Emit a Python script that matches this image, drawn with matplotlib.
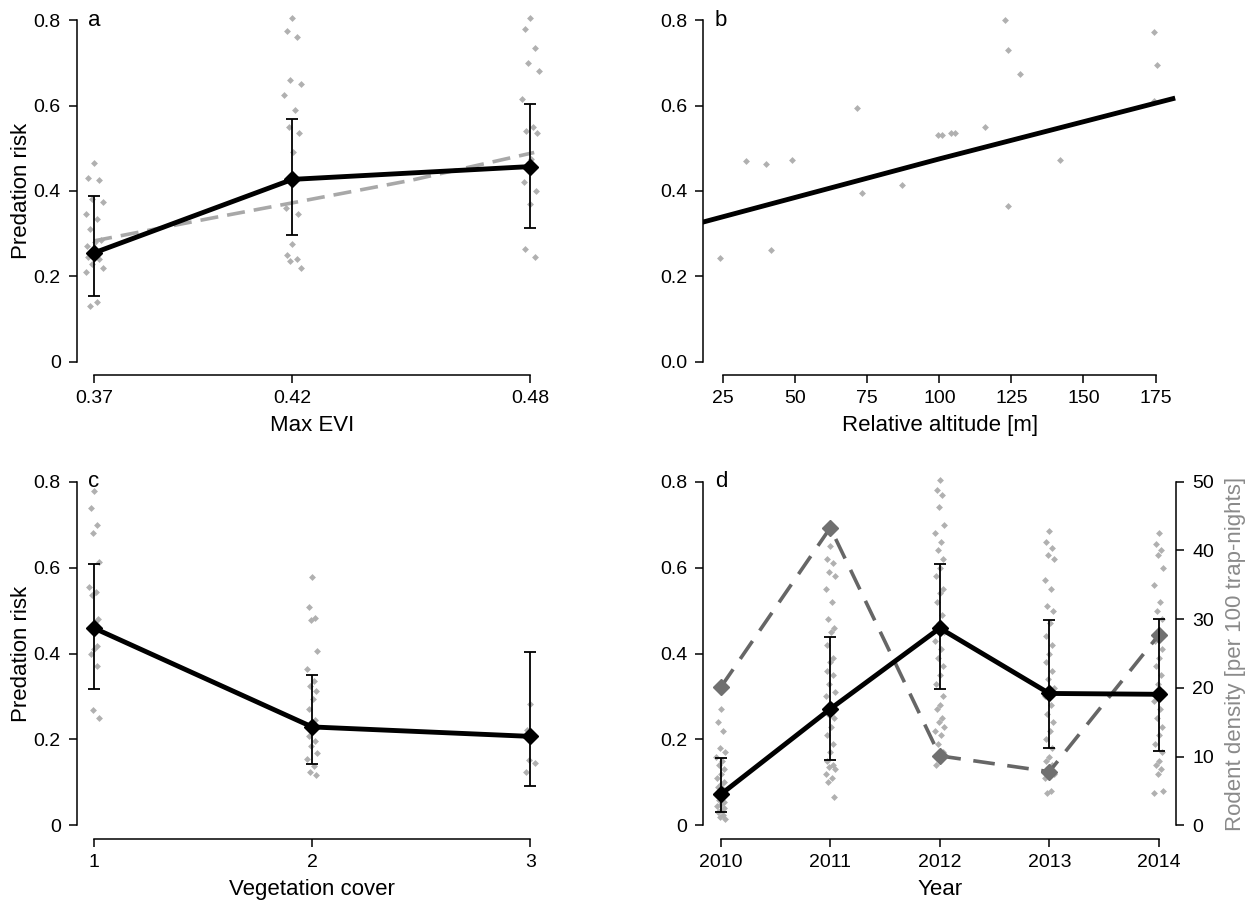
import matplotlib.pyplot as plt
import numpy as np

plt.rcParams['font.family'] = ['Liberation Sans', 'DejaVu Sans']

# ---- panel a: Max EVI
evi = [0.37, 0.42, 0.48]
evi_mean = [0.255, 0.427, 0.457]
evi_lo = [0.155, 0.297, 0.314]
evi_hi = [0.388, 0.568, 0.604]
evi_fit_x = [0.37, 0.40, 0.42, 0.45, 0.481]
evi_fit_y = [0.283, 0.337, 0.372, 0.425, 0.490]
evi_pts = {
    0.37: [0.465, 0.43, 0.425, 0.38, 0.375, 0.345, 0.335, 0.31, 0.285, 0.28,
           0.27, 0.26, 0.25, 0.245, 0.24, 0.23, 0.22, 0.21, 0.14, 0.13],
    0.42: [0.805, 0.775, 0.76, 0.66, 0.65, 0.625, 0.59, 0.55, 0.535, 0.49,
           0.36, 0.345, 0.275, 0.25, 0.24, 0.235, 0.22],
    0.48: [0.805, 0.78, 0.735, 0.70, 0.68, 0.615, 0.55, 0.54, 0.535, 0.475,
           0.42, 0.40, 0.37, 0.265, 0.245],
}

# ---- panel b: relative altitude
alt_x = [23.9, 32.9, 40.0, 41.6, 48.7, 71.4, 73.0, 87.1, 99.4, 100.9, 103.9,
         105.3, 115.8, 122.8, 123.9, 123.9, 127.9, 141.7, 174.3, 175.4, 174.3]
alt_y = [0.244, 0.471, 0.463, 0.262, 0.472, 0.595, 0.395, 0.413, 0.53, 0.53,
         0.535, 0.536, 0.549, 0.80, 0.731, 0.365, 0.674, 0.472, 0.773, 0.695, 0.611]
alt_fit_x = [18, 100, 181]
alt_fit_y = [0.327, 0.475, 0.616]

# ---- panel c: vegetation cover
veg = [1, 2, 3]
veg_mean = [0.459, 0.229, 0.207]
veg_lo = [0.318, 0.143, 0.092]
veg_hi = [0.608, 0.350, 0.403]
veg_pts = {
    1: [0.778, 0.739, 0.70, 0.68, 0.614, 0.555, 0.543, 0.537, 0.481, 0.473,
        0.46, 0.418, 0.41, 0.399, 0.37, 0.268, 0.25],
    2: [0.579, 0.509, 0.483, 0.478, 0.405, 0.364, 0.336, 0.324, 0.313, 0.293,
        0.27, 0.246, 0.227, 0.207, 0.196, 0.184, 0.168, 0.155, 0.137, 0.125, 0.117],
    3: [0.283, 0.222, 0.207, 0.152, 0.146, 0.123],
}

# ---- panel d: year
years = [2010, 2011, 2012, 2013, 2014]
yr_mean = [0.072, 0.271, 0.459, 0.307, 0.305]
yr_lo = [0.030, 0.151, 0.317, 0.180, 0.172]
yr_hi = [0.156, 0.438, 0.608, 0.479, 0.480]
rodent = [20.1, 43.3, 10.1, 7.8, 27.7]
yr_pts = {
    2010: [0.27, 0.24, 0.22, 0.18, 0.17, 0.16, 0.15, 0.14, 0.13, 0.12, 0.11, 0.10,
           0.095, 0.09, 0.085, 0.08, 0.075, 0.07, 0.065, 0.06, 0.055, 0.05, 0.045,
           0.04, 0.035, 0.03, 0.025, 0.02, 0.015],
    2011: [0.65, 0.62, 0.61, 0.59, 0.58, 0.55, 0.52, 0.48, 0.46, 0.45, 0.42, 0.39,
           0.38, 0.36, 0.35, 0.33, 0.31, 0.30, 0.28, 0.26, 0.25, 0.23, 0.21, 0.19,
           0.17, 0.15, 0.14, 0.135, 0.13, 0.12, 0.11, 0.10, 0.065],
    2012: [0.805, 0.78, 0.77, 0.74, 0.70, 0.68, 0.66, 0.64, 0.62, 0.60, 0.58, 0.55,
           0.54, 0.52, 0.49, 0.47, 0.45, 0.43, 0.41, 0.39, 0.37, 0.35, 0.33, 0.30,
           0.28, 0.27, 0.25, 0.24, 0.23, 0.22, 0.21, 0.19, 0.17, 0.15, 0.14],
    2013: [0.685, 0.66, 0.645, 0.63, 0.62, 0.57, 0.55, 0.51, 0.50, 0.47, 0.44, 0.42,
           0.40, 0.38, 0.36, 0.34, 0.32, 0.30, 0.28, 0.26, 0.24, 0.22, 0.20, 0.18,
           0.16, 0.15, 0.14, 0.13, 0.12, 0.11, 0.08, 0.075],
    2014: [0.68, 0.655, 0.64, 0.63, 0.60, 0.56, 0.52, 0.50, 0.48, 0.45, 0.43, 0.41,
           0.39, 0.37, 0.35, 0.33, 0.31, 0.29, 0.27, 0.25, 0.23, 0.21, 0.19, 0.17,
           0.15, 0.14, 0.13, 0.12, 0.08, 0.075],
}

DOT = '#b0b0b0'
jit = np.array([0.0, -0.6, 0.5, -0.2, 0.9, -0.9, 0.3, -0.4, 0.7, 0.1, -0.7, 0.6])
TICK = 14
LAB = 16


def r_style(ax, xticks, xlabels, yticklabels, xlim):
    ax.set_xlim(*xlim)
    ax.set_ylim(-0.032, 0.832)
    for s in ['top', 'right']:
        ax.spines[s].set_visible(False)
    ax.spines['left'].set_bounds(0, 0.8)
    ax.spines['bottom'].set_bounds(xticks[0], xticks[-1])
    for s in ['left', 'bottom']:
        ax.spines[s].set_linewidth(1.1)
    ax.set_xticks(xticks)
    ax.set_xticklabels(xlabels)
    ax.set_yticks([0, 0.2, 0.4, 0.6, 0.8])
    ax.set_yticklabels(yticklabels)
    ax.tick_params(direction='out', length=5.5, width=1.1, labelsize=TICK)
    ax.tick_params(axis='y', pad=6)
    ax.tick_params(axis='x', pad=5)


def dots(ax, groups, scale):
    for x0, vals in groups.items():
        xs = x0 + jit[np.arange(len(vals)) % len(jit)] * scale
        ax.plot(xs, vals, 'D', ms=3.5, color=DOT, mec='none', zorder=1)


def means(ax, x, m, lo, hi):
    m = np.array(m)
    err = [m - np.array(lo), np.array(hi) - m]
    ax.errorbar(x, m, yerr=err, fmt='none', ecolor='k', elinewidth=1.3,
                capsize=4, capthick=1.3, zorder=3)
    ax.plot(x, m, '-', color='k', lw=3.5, marker='D', ms=8, zorder=4)


fig = plt.figure(figsize=(12.47, 9.05), dpi=100)
ax_a = fig.add_axes([0.0615, 0.5852, 0.3777, 0.4077])
ax_b = fig.add_axes([0.564, 0.5852, 0.3793, 0.4077])
ax_c = fig.add_axes([0.0615, 0.0729, 0.3777, 0.41])
ax_d = fig.add_axes([0.564, 0.0729, 0.3793, 0.41])

ylab0 = ['0', '0.2', '0.4', '0.6', '0.8']

# a
dots(ax_a, evi_pts, 0.0024)
ax_a.plot(evi_fit_x, evi_fit_y, color='#a8a8a8', lw=2.6, ls=(0, (5, 2.5)), zorder=2)
means(ax_a, evi, evi_mean, evi_lo, evi_hi)
r_style(ax_a, evi, ['0.37', '0.42', '0.48'], ylab0, (0.3656, 0.4844))
ax_a.set_xlabel('Max EVI', fontsize=LAB, labelpad=6)
ax_a.set_ylabel('Predation risk', fontsize=LAB, labelpad=1)

# b
ax_b.plot(alt_x, alt_y, 'D', ms=3.5, color=DOT, mec='none', zorder=1)
ax_b.plot(alt_fit_x, alt_fit_y, color='k', lw=3.5, zorder=3)
r_style(ax_b, [25, 50, 75, 100, 125, 150, 175],
        ['25', '50', '75', '100', '125', '150', '175'],
        ['0.0', '0.2', '0.4', '0.6', '0.8'], (18.1, 182.2))
ax_b.set_xlabel('Relative altitude [m]', fontsize=LAB, labelpad=6)

# c
dots(ax_c, veg_pts, 0.024)
means(ax_c, veg, veg_mean, veg_lo, veg_hi)
r_style(ax_c, veg, ['1', '2', '3'], ylab0, (0.92, 3.08))
ax_c.set_xlabel('Vegetation cover', fontsize=LAB, labelpad=6)
ax_c.set_ylabel('Predation risk', fontsize=LAB, labelpad=1)

# d
ax_d2 = ax_d.twinx()
ax_d2.set_ylim(-2, 52)
for s in ['top', 'left', 'bottom']:
    ax_d2.spines[s].set_visible(False)
ax_d2.spines['right'].set_bounds(0, 50)
ax_d2.spines['right'].set_linewidth(1.1)
ax_d2.set_yticks([0, 10, 20, 30, 40, 50])
ax_d2.tick_params(direction='out', length=5.5, width=1.1, labelsize=TICK, pad=6)
ax_d2.set_ylabel('Rodent density [per 100 trap-nights]', fontsize=LAB,
                 color='#8a8a8a', labelpad=8)

dots(ax_d, yr_pts, 0.045)
ax_d.plot(years, rodent, color='#666666', lw=2.6, ls=(0, (6, 3.5)), marker='D',
          ms=8, mfc='#707070', mec='#707070', transform=ax_d2.transData, zorder=2)
means(ax_d, years, yr_mean, yr_lo, yr_hi)
r_style(ax_d, years, [str(y) for y in years], ylab0, (2009.84, 2014.16))
ax_d.set_xlabel('Year', fontsize=LAB, labelpad=6)
ax_d.set_zorder(ax_d2.get_zorder() + 1)
ax_d.patch.set_visible(False)

for ax, letter in zip([ax_a, ax_b, ax_c, ax_d], 'abcd'):
    ax.text(0.024, 0.8, letter, transform=ax.get_yaxis_transform(),
            fontsize=16, va='center', ha='left')

fig.savefig('out.png', dpi=100)
